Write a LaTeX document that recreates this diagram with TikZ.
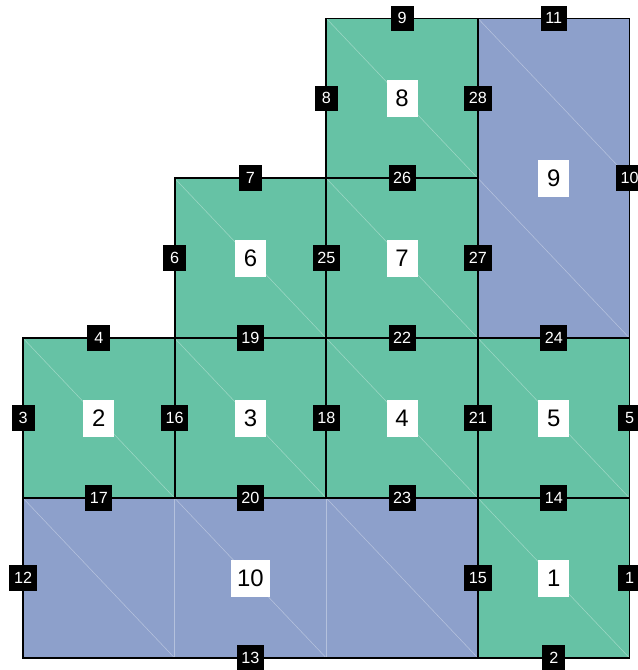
\documentclass[tikz,border=0pt]{standalone}
\usepackage{fontspec}
\setmainfont{Liberation Sans}
\usepackage{xcolor}
\definecolor{ink}{HTML}{000000}
\definecolor{mint}{HTML}{66C2A5}
\definecolor{slate}{HTML}{8DA0CB}
\usepackage{tikz}

\begin{document}
\begin{tikzpicture}[x=3.7875cm,y=3.994cm,
    facelbl/.style={fill=white, text=ink, inner xsep=0.15cm, inner ysep=0pt,
      minimum width=0.77cm, minimum height=0.925cm, font=\fontsize{17}{17}\selectfont},
    edgelbl/.style={fill=ink, text=white, inner xsep=0.115cm, inner ysep=0pt,
      minimum width=0.575cm, minimum height=0.64cm, font=\fontsize{11.5}{12}\selectfont},
    faint/.style={white, opacity=0.35, line width=0.4pt}]
  \useasboundingbox (-0.1518,-0.075) rectangle (4.0528,4.115);
  % faces
  \foreach \xa/\ya/\xb/\yb in {3/0/4/1,0/1/1/2,1/1/2/2,2/1/3/2,3/1/4/2,
                               1/2/2/3,2/2/3/3,2/3/3/4}
    \fill[mint] (\xa,\ya) rectangle (\xb,\yb);
  \fill[slate] (0,0) rectangle (3,1);
  \fill[slate] (3,2) rectangle (4,4);
  % cell diagonals
  \foreach \c/\r in {0/0,1/0,2/0,3/0,0/1,1/1,2/1,3/1,1/2,2/2,3/2,2/3,3/3}
    \draw[faint] (\c,\r+1) -- (\c+1,\r);
  \draw[faint] (1,0) -- (1,1) (2,0) -- (2,1);
  % outlines
  \foreach \xa/\ya/\xb/\yb in {3/0/4/1,0/1/1/2,1/1/2/2,2/1/3/2,3/1/4/2,
                               1/2/2/3,2/2/3/3,2/3/3/4,0/0/3/1,3/2/4/4}
    \draw[ink, line width=1.2pt] (\xa,\ya) rectangle (\xb,\yb);
  % face labels
  \foreach \pos/\n in {(3.5,0.5)/1,(0.5,1.5)/2,(1.5,1.5)/3,(2.5,1.5)/4,(3.5,1.5)/5,
                       (1.5,2.5)/6,(2.5,2.5)/7,(2.5,3.5)/8,(3.5,3)/9,(1.5,0.5)/10}
    \node[facelbl] (f\n) at \pos {\n};
  % edge labels
  \foreach \pos/\n in {(4,0.5)/1,(3.5,0)/2,(0,1.5)/3,(0.5,2)/4,(4,1.5)/5,(1,2.5)/6,
                       (1.5,3)/7,(2,3.5)/8,(2.5,4)/9,(4,3)/10,(3.5,4)/11,(0,0.5)/12,
                       (1.5,0)/13,(3.5,1)/14,(3,0.5)/15,(1,1.5)/16,(0.5,1)/17,(2,1.5)/18,
                       (1.5,2)/19,(1.5,1)/20,(3,1.5)/21,(2.5,2)/22,(2.5,1)/23,(3.5,2)/24,
                       (2,2.5)/25,(2.5,3)/26,(3,2.5)/27,(3,3.5)/28}
    \node[edgelbl] (e\n) at \pos {\n};
\end{tikzpicture}
\end{document}
